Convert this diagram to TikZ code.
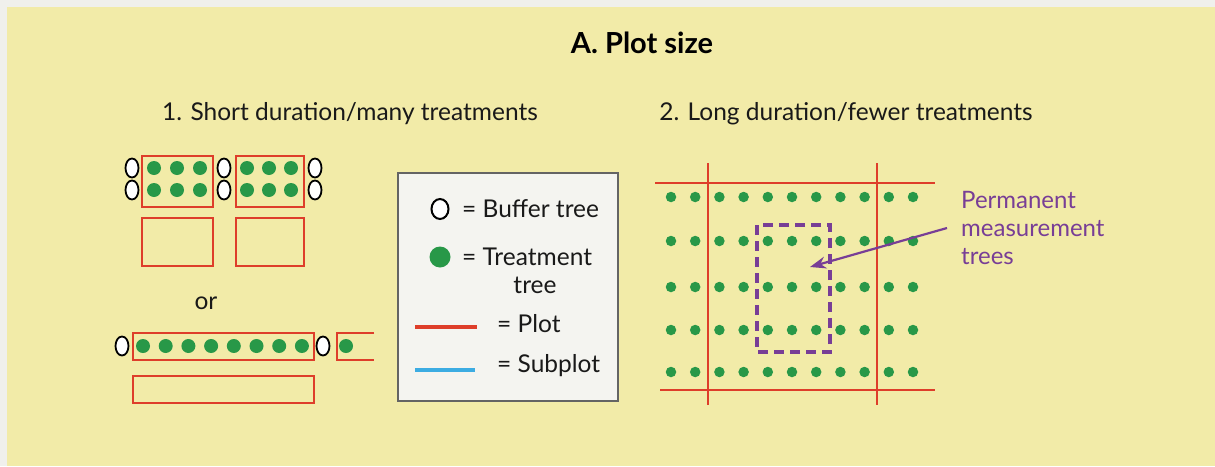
\documentclass[tikz,border=0pt]{standalone}
\usepackage{fontspec}
\setmainfont{Lato}
\usetikzlibrary{shapes.geometric,arrows.meta}
\definecolor{bgyellow}{RGB}{242,235,168}
\definecolor{margincol}{RGB}{240,240,236}
\definecolor{plotred}{RGB}{222,62,42}
\definecolor{treatgreen}{RGB}{40,152,72}
\definecolor{subblue}{RGB}{60,172,226}
\definecolor{permpurple}{RGB}{120,62,150}
\definecolor{legfill}{RGB}{244,244,240}
\definecolor{legdraw}{RGB}{100,100,100}
\begin{document}
\begin{tikzpicture}[x=1pt,y=-1pt,
  plotbox/.style={draw=plotred, line width=2pt},
  buffer/.style={ellipse, draw=black, fill=white, line width=1.8pt, minimum width=13pt, minimum height=19pt, inner sep=0pt},
  treat/.style={circle, fill=treatgreen, minimum size=14pt, inner sep=0pt},
  fielddot/.style={circle, fill=treatgreen, minimum size=10.5pt, inner sep=0pt},
  lbl/.style={font=\fontsize{24.5}{28}\selectfont, inner sep=0pt, text=black!90},
  titlelbl/.style={font=\fontsize{29}{32}\selectfont\bfseries, inner sep=0pt},
  permlbl/.style={font=\fontsize{24}{28}\selectfont, inner sep=0pt, text=permpurple, align=left}
]
\useasboundingbox (0,0) rectangle (1215,466);
\fill[margincol] (0,0) rectangle (1215,466);
\fill[bgyellow] (7,7) rectangle (1215,466);

% titles
\node[titlelbl, anchor=base] (title) at (642,53) {A. Plot size};
\node[lbl] (sub1) at (350,114) {1. Short duration/many treatments};
\node[lbl] (sub2) at (846,114) {2. Long duration/fewer treatments};

% ---- Panel 1, layout a ----
\draw[plotbox] (142,156) rectangle (213,207);
\draw[plotbox] (236,156) rectangle (304,207);
\draw[plotbox] (142,218) rectangle (213,266);
\draw[plotbox] (236,218) rectangle (304,266);
\foreach \r/\yy in {1/168,2/190}{
  \node[buffer] (ba\r) at (132,\yy) {};
  \node[buffer] (bb\r) at (224,\yy) {};
  \node[buffer] (bc\r) at (315,\yy) {};
  \foreach \c/\xx in {1/154,2/177,3/200,4/247,5/269,6/291}{
    \node[treat] (ta\r-\c) at (\xx,\yy) {};
  }
}
\node[lbl] (or) at (206,303) {or};

% ---- Panel 1, layout b ----
\draw[plotbox] (133,333) rectangle (314,360);
\draw[plotbox] (133,376) rectangle (314,403);
\draw[plotbox] (374,333) -- (337,333) -- (337,360) -- (374,360);
\node[buffer] (bl1) at (122,346) {};
\node[buffer] (bl2) at (323,346) {};
\foreach \c in {0,...,7}{
  \node[treat] (tl\c) at ({143+22.7*\c},346) {};
}
\node[treat] (tl8) at (346,346) {};

% ---- Legend ----
\draw[draw=legdraw, fill=legfill, line width=1.2pt] (398,173) rectangle (618,401);
\node[ellipse, draw=black, fill=white, line width=2pt, minimum width=17pt, minimum height=20pt, inner sep=0pt] (legbuf) at (440,209) {};
\node[lbl, anchor=west] (legbuftxt) at (462,209) {= Buffer tree};
\node[circle, fill=treatgreen, minimum size=21pt, inner sep=0pt] (legtreat) at (440,257) {};
\node[lbl, anchor=west] (legtreattxt) at (462,257) {= Treatment};
\node[lbl] (legtreattxt2) at (535,285) {tree};
\coordinate (lr1) at (415,327); \coordinate (lr2) at (477,327);
\draw[plotred, line width=4pt] (lr1) -- (lr2);
\node[lbl, anchor=west] (legplottxt) at (497,324) {= Plot};
\coordinate (lb1) at (415,370); \coordinate (lb2) at (475,370);
\draw[subblue, line width=4pt] (lb1) -- (lb2);
\node[lbl, anchor=west] (legsubtxt) at (497,366) {= Subplot};

% ---- Panel 2 ----
\foreach \r/\yy in {1/197,2/241,3/287,4/330,5/372}{
  \foreach \c in {0,...,10}{
    \node[fielddot] (f\r-\c) at ({671+24.2*\c},\yy) {};
  }
}
\draw[plotbox] (655,183) -- (935,183);
\draw[plotbox] (660,390) -- (935,390);
\draw[plotbox] (708,163) -- (708,405);
\draw[plotbox] (877,163) -- (877,405);
\draw[permpurple, line width=3.5pt, dash pattern=on 10pt off 6pt] (757,225) rectangle (830,352);

\node[permlbl, anchor=north west] (perm) at (961,191) {Permanent\\measurement\\trees};
\coordinate (arrstart) at (947,228);
\coordinate (arrend) at (810,267);
\draw[permpurple, line width=2.2pt, -{Stealth[length=16pt,width=12pt]}] (arrstart) -- (arrend);
\end{tikzpicture}
\end{document}
